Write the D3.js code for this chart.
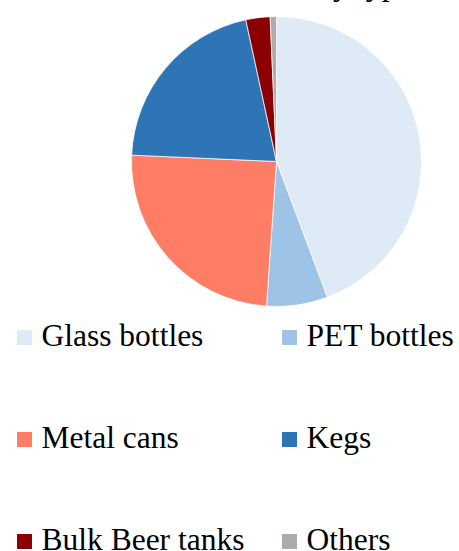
<!DOCTYPE html>
<html>
<head>
<meta charset="utf-8">
<script src="https://cdn.jsdelivr.net/npm/d3@7"></script>
<style>
  body { margin: 0; background: #fff; }
  svg { display: block; font-family: "Liberation Serif", "Times New Roman", serif; }
</style>
</head>
<body>
<svg></svg>
<script>
const categories = ['Glass bottles', 'PET bottles', 'Metal cans', 'Kegs', 'Bulk Beer tanks', 'Others'];
const shares = [44.3, 6.8, 24.6, 20.9, 2.7, 0.7];
const colours = ['#deebf7', '#9dc3e6', '#ff7c65', '#2e75b6', '#8b0000', '#afabab'];
const titleText = 'Beer market share by type';

const width = 459;
const height = 551;

const svg = d3.select('svg')
    .attr('width', width)
    .attr('height', height);

// title sits mostly above the frame, only descenders show
svg.append('text')
    .attr('x', 412)
    .attr('y', -5)
    .attr('text-anchor', 'end')
    .attr('font-size', '32px')
    .attr('fill', '#000')
    .text(titleText);

const colour = d3.scaleOrdinal().domain(categories).range(colours);

const pie = d3.pie().sort(null).value(d => d.value);
const arc = d3.arc().innerRadius(0).outerRadius(145);

const data = categories.map((c, i) => ({ name: c, value: shares[i] }));

const g = svg.append('g')
    .attr('transform', 'translate(276.5, 161.5)');

g.selectAll('path').data(pie(data))
    .enter().append('path')
        .attr('d', arc)
        .attr('fill', d => colour(d.data.name))
        .attr('stroke', '#fff')
        .attr('stroke-width', 0.75);

// legend: 2 columns x 3 rows
const colX = d3.scaleOrdinal().domain([0, 1]).range([17, 282]);
const rowY = d3.scalePoint().domain([0, 1, 2]).range([346, 550]);

const legend = svg.selectAll('g.legend').data(data)
    .enter().append('g')
        .attr('class', 'legend')
        .attr('transform', (d, i) => `translate(${colX(i % 2)}, ${rowY(Math.floor(i / 2))})`);

legend.append('rect')
    .attr('x', 0)
    .attr('y', -16)
    .attr('width', 15)
    .attr('height', 15)
    .attr('fill', d => colour(d.name));

legend.append('text')
    .attr('x', 24.5)
    .attr('y', 0)
    .attr('font-size', '31.5px')
    .attr('fill', '#000')
    .text(d => d.name);
</script>
</body>
</html>
